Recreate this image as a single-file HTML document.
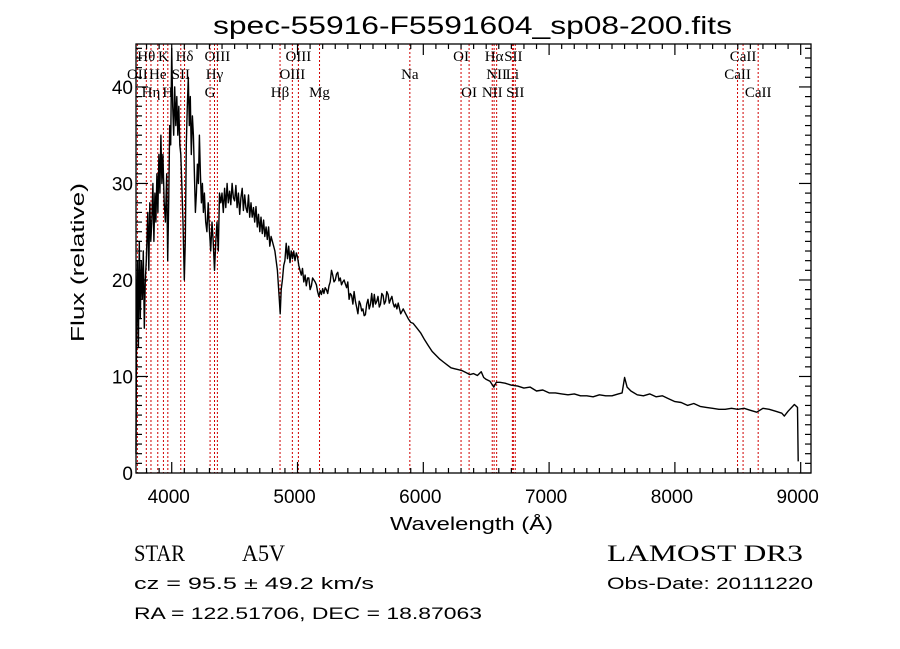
<!DOCTYPE html>
<html><head><meta charset="utf-8"><style>
html,body{margin:0;padding:0;background:#fff;}
svg{display:block;}
text{fill:#000;}
</style></head><body>
<svg id="chart" width="900" height="649" xmlns="http://www.w3.org/2000/svg">
<rect x="0" y="0" width="900" height="649" fill="#fff"/>
<text x="213" y="34" font-family="Liberation Sans, sans-serif" font-size="25" textLength="519" lengthAdjust="spacingAndGlyphs">spec-55916-F5591604_sp08-200.fits</text>
<g id="lines"></g>
<g id="labels"></g>
<g id="ticks"></g>
<path id="spec" fill="none" stroke="#000" stroke-width="1.4" stroke-linejoin="round"/>
<rect x="136" y="44" width="675" height="429" fill="none" stroke="#000" stroke-width="1.3"/>
<text x="390" y="530" font-family="Liberation Sans, sans-serif" font-size="18" textLength="163" lengthAdjust="spacingAndGlyphs">Wavelength (Å)</text>
<text transform="translate(84,342) rotate(-90)" font-family="Liberation Sans, sans-serif" font-size="18" textLength="159" lengthAdjust="spacingAndGlyphs">Flux (relative)</text>
<text x="134" y="561" font-family="Liberation Serif, serif" font-size="23" textLength="51" lengthAdjust="spacingAndGlyphs">STAR</text>
<text x="242" y="561" font-family="Liberation Serif, serif" font-size="23" textLength="43" lengthAdjust="spacingAndGlyphs">A5V</text>
<text x="607" y="561" font-family="Liberation Serif, serif" font-size="23" textLength="196" lengthAdjust="spacingAndGlyphs">LAMOST DR3</text>
<text x="134" y="589" font-family="Liberation Sans, sans-serif" font-size="17" textLength="240" lengthAdjust="spacingAndGlyphs">cz = 95.5 ± 49.2 km/s</text>
<text x="607" y="589" font-family="Liberation Sans, sans-serif" font-size="17" textLength="206" lengthAdjust="spacingAndGlyphs">Obs-Date: 20111220</text>
<text x="134" y="619" font-family="Liberation Sans, sans-serif" font-size="17" textLength="348" lengthAdjust="spacingAndGlyphs">RA = 122.51706, DEC =  18.87063</text>
</svg>
<script>
const wave = [
3716,3720,3728,3735,3742,3750,3758,3766,3774,3782,3790,3798,3810,3818,3826,3834,3842,3850,3858,3866,3874,3882,3890,3898,3906,3914,3922,3930,3940,3950,3960,3968,3976,3984,3992,4000,4008,4016,4024,4032,4040,4048,4056,4064,4072,4080,4090,4100,4108,4116,4124,4132,4140,4148,4156,4164,4172,4180,4188,4196,4204,4212,4220,4228,4236,4244,4252,4260,4270,4280,4290,4300,4310,4320,4330,4340,4350,4360,4370,4380,4390,4400,
4410,4420,4430,4440,4450,4460,4470,4480,4490,4500,
4510,4520,4530,4540,4550,4560,4570,4580,4590,4600,
4610,4620,4630,4640,4650,4660,4670,4680,4690,4700,
4710,4720,4730,4740,4750,4760,4770,4780,4790,4800,
4820,4840,4855,4862,4870,4880,
4890,4900,4910,4920,4930,4940,4950,4960,4970,4980,4990,5000,
5010,5020,5030,5040,5050,5060,5070,5080,5090,5100,
5110,5120,5130,5140,5150,5160,5170,5180,5190,5200,
5210,5220,5230,5240,5250,5260,5270,5280,5290,5300,
5310,5320,5330,5340,5350,5360,5370,5380,5390,5400,
5410,5420,5430,5440,5450,5460,5470,5480,5490,5500,
5510,5520,5530,5540,5550,5560,5570,5580,5590,5600,
5610,5620,5630,5640,5650,5660,5670,5680,5690,5700,
5710,5720,5730,5740,5750,5760,5770,5780,5790,5800,
5820,5840,5860,5880,5900,5920,5950,5980,6010,6040,6070,6100,6130,6160,6190,6220,6250,6280,6310,6340,6370,6400,6430,6460,6480,6500,6530,6560,6580,6610,6650,6700,6750,6800,6850,6900,6950,7000,7050,7100,7150,7200,7250,7300,7350,7400,7450,7500,7550,7580,7600,7620,7650,7700,7750,7800,7850,7900,7950,8000,8050,8100,8150,8200,8250,8300,8350,8400,8450,8500,8550,8600,8650,8700,8750,8800,8850,8870,8900,8950,8975,8980];
const flux = [
2,14,22,13,24,16,22,18,23,15,20,22,27,21,28,24,26,30,24,29,26,31,27,33,29,35,30,33,28,26,31,22,28,36,34,44,38,35,40,36,39,35,38,34,33,30,26,20,24,34,38,41,36,39,33,37,35,31,27,29,32,30,35,31,28,30,27,29,26,25,28,25,23,26,24,21,24,26,23,29,28,29,
27,29.5,27.5,30,28,29.2,27.8,30,28.5,28.2,
29.8,27.5,29,26.8,28.5,29.5,27.2,28.8,27.5,27,
28.8,26.5,28,26.5,27.5,26,27.6,25.5,26.8,25,
26.5,24.8,26.2,24.5,25.5,24.2,25.5,23.5,24.5,24,
23,21,18,16.5,19,20,
21.5,22,23.8,22.2,23.5,21.8,23,22.2,23,22,22.8,22.4,
21.5,21,20.5,21.2,19.8,20.5,19.4,20.2,20.2,19,
19.4,20.2,20,19.8,19.5,18.8,18.3,18.9,18.5,19.1,
18.6,19.2,19,18.6,19.4,19.8,21,20.5,19.8,20,
20.6,20.8,19.9,20.2,19.5,19.8,20,19.6,19.2,19.8,
18,18.6,18.4,17.5,18.8,17.8,17.2,16.5,17.8,17.5,
16.8,17,16.3,16.4,17.5,18,17,17.5,18.6,17.2,
18.5,17.5,17.8,18.3,17.2,17.5,18.6,18.4,17.5,17.8,
18.8,18.5,17.6,18,18.3,17.6,17.2,17.5,17,17.6,
16.5,17,16.5,16,15.6,15.5,15,14.5,13.8,13.2,12.6,12.2,11.8,11.5,11.2,10.9,10.8,10.7,10.6,10.4,10.2,10.3,10.1,10.5,9.9,9.7,9.5,8.9,9.4,9.4,9.3,9.1,9.0,8.8,8.9,8.5,8.6,8.3,8.3,8.2,8.1,8.2,8.0,8.0,7.9,8.1,8.0,8.0,8.2,8.3,9.9,8.9,8.5,8.1,8.0,8.2,7.9,8.0,7.7,7.4,7.3,7.0,7.2,6.9,6.8,6.7,6.6,6.6,6.7,6.6,6.7,6.5,6.3,6.7,6.6,6.4,6.2,5.9,6.4,7.1,6.8,1.2];
const lineWave = [3727,3798,3835,3889,3934,3969,4072,4102,4305,4340,4363,4861,4959,5007,5175,5893,6300,6364,6548,6563,6583,6708,6716,6731,8498,8542,8662];
const lineName = ["OII","Hθ","Hη","He","K","H","SII","Hδ","G","Hγ","OIII","Hβ","OIII","OIII","Mg","Na","OI","OI","NII","Hα","NII","Li","SII","SII","CaII","CaII","CaII"];
const lineRow = [1,0,2,1,0,2,1,0,2,1,0,2,1,0,2,1,0,2,2,0,1,1,0,2,1,0,2];
const xTicks = [4000,5000,6000,7000,8000,9000];
const yTicks = [0,10,20,30,40];

const X0=136,X1=811,Y0=473,Y1=44,WMIN=3716,WMAX=9082,FMIN=0,FMAX=44.45;
const sx = w => X0+(w-WMIN)/(WMAX-WMIN)*(X1-X0);
const sy = f => Y0-(f-FMIN)/(FMAX-FMIN)*(Y0-Y1);
const NS="http://www.w3.org/2000/svg";

let d="";
const n=Math.min(wave.length,flux.length);
for(let i=0;i<n;i++){
  const y=Math.max(Y1,Math.min(Y0,sy(flux[i])));
  d+=(i?"L":"M")+sx(wave[i]).toFixed(1)+","+y.toFixed(1);
}
document.getElementById("spec").setAttribute("d",d);

const lg=document.getElementById("lines"), lb=document.getElementById("labels");
const rowY=[61,79,97];
for(let i=0;i<lineWave.length;i++){
  const x=sx(lineWave[i]);
  const l=document.createElementNS(NS,"line");
  
  
  l.setAttribute("x1",x);l.setAttribute("x2",x);l.setAttribute("y1",Y1);l.setAttribute("y2",Y0);
  l.setAttribute("stroke","#d00000");l.setAttribute("stroke-width","1");l.setAttribute("stroke-dasharray","2,2");
  lg.appendChild(l);
  const t=document.createElementNS(NS,"text");
  
  
  t.setAttribute("x",x);t.setAttribute("y",rowY[lineRow[i]]);
  t.setAttribute("text-anchor","middle");t.setAttribute("font-family","Liberation Serif, serif");
  t.setAttribute("font-size","15");
  t.textContent=lineName[i];
  lb.appendChild(t);
}

const tg=document.getElementById("ticks");
function tick(x1,y1,x2,y2){
  const l=document.createElementNS(NS,"line");
  
  
  l.setAttribute("x1",x1);l.setAttribute("y1",y1);l.setAttribute("x2",x2);l.setAttribute("y2",y2);
  l.setAttribute("stroke","#000");l.setAttribute("stroke-width","1.2");
  tg.appendChild(l);
}
for(let w=3800;w<=9000;w+=100){
  const x=sx(w), major=(w%1000===0), len=major?11:5;
  tick(x,Y0,x,Y0-len); tick(x,Y1,x,Y1+len);
}
for(let f=0;f<=44;f+=1){
  const y=sy(f), major=(f%10===0), len=major?12:6;
  tick(X0,y,X0+len,y); tick(X1,y,X1-len,y);
}
xTicks.forEach(v=>{
  const t=document.createElementNS(NS,"text");
  
  
  t.setAttribute("x",sx(v)-3);t.setAttribute("y",503);t.setAttribute("text-anchor","middle");
  t.setAttribute("font-family","Liberation Sans, sans-serif");t.setAttribute("font-size","19");
  t.textContent=v;tg.appendChild(t);
});
yTicks.forEach(v=>{
  const t=document.createElementNS(NS,"text");
  
  
  t.setAttribute("x",133);t.setAttribute("y",sy(v)+7);t.setAttribute("text-anchor","end");
  t.setAttribute("font-family","Liberation Sans, sans-serif");t.setAttribute("font-size","19");
  t.textContent=v;tg.appendChild(t);
});
</script>
</body></html>
